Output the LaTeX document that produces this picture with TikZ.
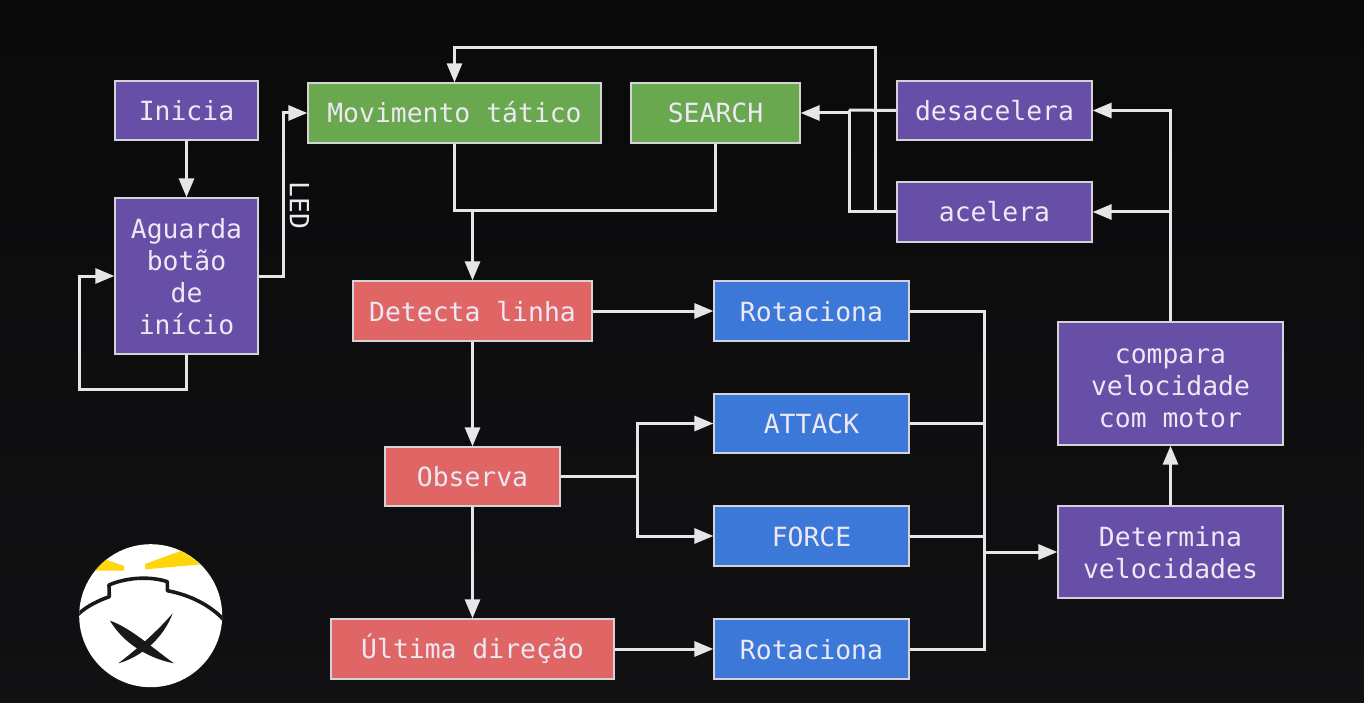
\documentclass[tikz,border=0pt]{standalone}
\usepackage{fontspec}
\setmainfont{DejaVu Sans Mono}
\usetikzlibrary{arrows.meta}
\definecolor{bgtop}{HTML}{0A0A0B}
\definecolor{bgbot}{HTML}{111113}
\definecolor{pur}{HTML}{674EA7}
\definecolor{grn}{HTML}{6AA84F}
\definecolor{rd}{HTML}{E06666}
\definecolor{blu}{HTML}{3C78D8}
\definecolor{edge}{HTML}{D4D4D8}
\definecolor{wire}{HTML}{E6E6E8}
\definecolor{txt}{HTML}{ECE8F4}
\definecolor{yel}{HTML}{FFD60A}
\tikzset{
  x=1pt,y=-1pt,
  box/.style={draw=edge,line width=1.3pt,inner sep=0pt,text=txt,align=center,
    font=\fontsize{26.4}{32}\selectfont,
    execute at begin node={\rule{0pt}{24pt}},
    execute at end node={\rule[-4pt]{0pt}{4pt}}},
  pbox/.style={box,fill=pur},
  gbox/.style={box,fill=grn},
  rbox/.style={box,fill=rd},
  bbox/.style={box,fill=blu},
  wirel/.style={draw=wire,line width=3pt},
  arr/.style={wirel,-{Triangle[length=19pt,width=15pt]}},
}
\newcommand{\bx}[7]{\node[#1,minimum width=#4pt,minimum height=#5pt] (#2) at (#6,#7) {#3};}
\begin{document}
\begin{tikzpicture}
\useasboundingbox (0,0) rectangle (1364,703);
\shade[top color=bgtop,bottom color=bgbot] (0,0) rectangle (1364,703);

\bx{pbox}{ini}{Inicia}{143}{59}{186.5}{110.5}
\bx{pbox}{agu}{\rule{0pt}{25pt}Aguarda\\botão\\de\\início}{143}{156}{186.5}{276}
\bx{gbox}{mov}{Movimento tático}{293}{60}{454.5}{113}
\bx{gbox}{sea}{SEARCH}{169}{60}{715.5}{113}
\bx{pbox}{des}{desacelera}{195}{59}{994.5}{110.5}
\bx{pbox}{ace}{acelera}{195}{60}{994.5}{212}
\bx{rbox}{dtl}{Detecta linha}{239}{60}{472.5}{311}
\bx{bbox}{ro1}{Rotaciona}{195}{60}{811.5}{311}
\bx{bbox}{att}{ATTACK}{195}{59}{811.5}{423.5}
\bx{bbox}{frc}{FORCE}{195}{60}{811.5}{536}
\bx{rbox}{obs}{Observa}{175}{59}{472.5}{476.5}
\bx{rbox}{ult}{Última direção}{283}{60}{472.5}{649}
\bx{bbox}{ro2}{Rotaciona}{195}{60}{811.5}{649}
\bx{pbox}{cmp}{\rule{0pt}{28pt}compara\\velocidade\\com motor}{225}{123}{1170.5}{383.5}
\bx{pbox}{dvl}{\rule{0pt}{25pt}Determina\\velocidades}{225}{92}{1170.5}{552}

\coordinate (loopb) at (79,389);
\coordinate (ledc) at (283,200);
\coordinate (mg) at (472.5,211);
\coordinate (sj) at (849,110);
\coordinate (topc) at (875,48);
\coordinate (obsj) at (637,476.5);
\coordinate (bus) at (984,552);

\draw[arr] (ini.south) -- (agu.north);
\draw[arr] (agu.south) |- (loopb) |- (agu.west);
\draw[arr] (agu.east) -| (ledc) |- (mov.west);
\draw[wirel] (mov.south) |- (mg);
\draw[wirel] (sea.south) |- (mg);
\draw[arr] (mg) -- (dtl.north);
\draw[wirel] (des.west) -- (sj);
\draw[wirel] (ace.west) -| (sj);
\draw[arr] (sj) |- (sea.east);
\draw[arr] (ace.west -| topc) -- (topc) -| (mov.north);
\draw[arr] (dtl.east) -- (ro1.west);
\draw[arr] (dtl.south) -- (obs.north);
\draw[arr] (obs.south) -- (ult.north);
\draw[wirel] (obs.east) -- (obsj);
\draw[arr] (obsj) |- (att.west);
\draw[arr] (obsj) |- (frc.west);
\draw[arr] (ult.east) -- (ro2.west);
\draw[wirel] (ro1.east) -| (bus);
\draw[wirel] (att.east) -| (bus);
\draw[wirel] (frc.east) -| (bus);
\draw[wirel] (ro2.east) -| (bus);
\draw[arr] (bus) -- (dvl.west);
\draw[arr] (dvl.north) -- (cmp.south);
\draw[arr] (cmp.north) |- (ace.east);
\draw[arr] (cmp.north) |- (des.east);

\node[rotate=-90,text=txt,inner sep=0pt,font=\fontsize{26.4}{32}\selectfont] (led) at (299.5,205.5) {LED};

% logo
\fill[white] (150.7,615.7) circle[radius=71.5];
\begin{scope}
\clip (150.7,615.7) circle[radius=71.5];
\begin{scope}[shift={(60,530)},scale=1/3]
\fill[yel] (105,122) -- (135,88) -- (192,108) -- (192,122) -- cycle;
\fill[yel] (255,102) -- (365,62) -- (425,103) -- (255,118) -- cycle;
\draw[black!90,line width=3.6pt,line join=round]
  (52,255) .. controls (80,228) and (115,212) .. (148,200)
  -- (147,165) .. controls (200,142) and (270,138) .. (322,155)
  -- (322,182) .. controls (390,195) and (450,225) .. (492,270);
\fill[black!90] (150,272) .. controls (190,340) and (265,385) .. (342,400)
  .. controls (285,360) and (215,295) .. cycle;
\fill[black!90] (338,250) .. controls (310,325) and (245,380) .. (175,400)
  .. controls (240,350) and (295,300) .. cycle;
\end{scope}
\end{scope}
\end{tikzpicture}
\end{document}
